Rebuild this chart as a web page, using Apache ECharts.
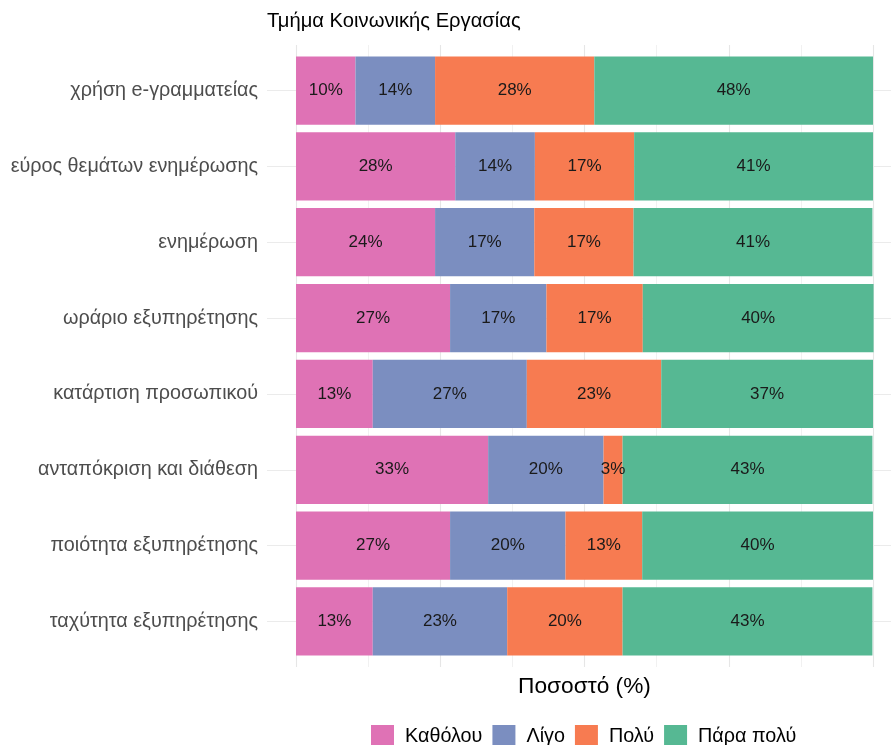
<!DOCTYPE html>
<html>
<head>
<meta charset="utf-8">
<script src="https://cdn.jsdelivr.net/npm/echarts@6/dist/echarts.min.js"></script>
<style>
  html, body { margin: 0; padding: 0; background: #fff; }
  #chart { width: 891px; height: 745px; }
</style>
</head>
<body>
<div id="chart"></div>
<script>
// categories, top to bottom
var categories = [
    'χρήση e-γραμματείας',
    'εύρος θεμάτων ενημέρωσης',
    'ενημέρωση',
    'ωράριο εξυπηρέτησης',
    'κατάρτιση προσωπικού',
    'ανταπόκριση και διάθεση',
    'ποιότητα εξυπηρέτησης',
    'ταχύτητα εξυπηρέτησης'
];
var seriesNames = ['Καθόλου', 'Λίγο', 'Πολύ', 'Πάρα πολύ'];
var colors = ['#df72b5', '#7b8ec0', '#f77b51', '#56b893'];

// percentages per answer
var katholou = [10.3, 27.6, 24.1, 26.7, 13.3, 33.3, 26.7, 13.3];
var ligo     = [13.8, 13.8, 17.2, 16.7, 26.7, 20.0, 20.0, 23.3];
var poly     = [27.6, 17.2, 17.2, 16.7, 23.3, 3.3, 13.3, 20.0];
var paraPoly = [48.3, 41.4, 41.4, 40.0, 36.7, 43.3, 40.0, 43.3];
var values = [katholou, ligo, poly, paraPoly];

var font = '"Liberation Sans", Arial, sans-serif';
var chart = echarts.init(document.getElementById('chart'));

var series = seriesNames.map(function(name, i) {
    return {
        name: name,
        type: 'bar',
        stack: 'total',
        xAxisIndex: 0,
        yAxisIndex: 0,
        barWidth: '90%',
        itemStyle: { color: colors[i] },
        label: {
            show: true,
            position: 'inside',
            color: '#1a1a1a',
            fontFamily: font,
            fontSize: 17,
            formatter: function(p) { return Math.round(p.value) + '%'; }
        },
        emphasis: { disabled: true },
        data: values[i]
    };
});

var option = {
    animation: false,
    textStyle: { fontFamily: font },
    title: {
        text: 'Τμήμα Κοινωνικής Εργασίας',
        left: 267,
        top: 11,
        padding: 0,
        textStyle: { fontSize: 20.2, fontWeight: 'normal', color: '#000', fontFamily: font }
    },
    legend: {
        data: seriesNames,
        left: 371,
        top: 725,
        padding: 0,
        itemWidth: 23,
        itemHeight: 23,
        itemGap: 10,
        icon: 'rect',
        textStyle: { fontSize: 19.8, color: '#000', fontFamily: font, padding: [0, 0, 0, 6] }
    },
    grid: [
        // bars: x=0 at 296px, x=100 at 873px
        { left: 267, right: 0, top: 52.6, height: 606.8 },
        // vertical grid lines
        { left: 296, width: 577, top: 45, height: 622 },
        // horizontal grid lines at category centres
        { left: 267, right: 0, top: 90.5, height: 531 }
    ],
    xAxis: [
        { gridIndex: 0, type: 'value', min: -5.03, max: 103.12, show: false },
        {
            gridIndex: 1, type: 'value', min: 0, max: 100, interval: 12.5,
            name: 'Ποσοστό (%)', nameLocation: 'middle', nameGap: 8,
            nameTextStyle: { fontSize: 22.7, color: '#000', fontFamily: font },
            axisLine: { show: false }, axisTick: { show: false }, axisLabel: { show: false },
            splitLine: { show: true, lineStyle: { color: ['#e6e6e6', '#f1f1f1'], width: 1.1 } }
        },
        { gridIndex: 2, type: 'value', show: false }
    ],
    yAxis: [
        {
            gridIndex: 0, type: 'category', data: categories, inverse: true,
            axisLine: { show: false }, axisTick: { show: false }, splitLine: { show: false },
            axisLabel: { color: '#4d4d4d', fontSize: 19.8, margin: 9, fontFamily: font, interval: 0 }
        },
        { gridIndex: 1, type: 'value', show: false },
        {
            gridIndex: 2, type: 'category', data: categories, inverse: true, boundaryGap: false,
            axisLine: { show: false }, axisTick: { show: false, interval: 0 },
            axisLabel: { show: false, interval: 0 },
            splitLine: { show: true, interval: 0, lineStyle: { color: '#ebebeb', width: 1.2 } }
        }
    ],
    series: series
};

chart.setOption(option);
</script>
</body>
</html>
